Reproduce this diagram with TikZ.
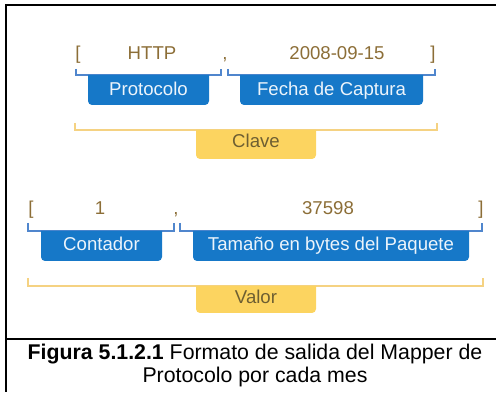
\documentclass[tikz,border=0pt]{standalone}
\usepackage{fontspec}
\setmainfont{Liberation Sans}
\usepackage{tikz}

\definecolor{tagblue}{RGB}{22,120,200}
\definecolor{lineblue}{RGB}{80,134,205}
\definecolor{tagyellow}{RGB}{252,212,96}
\definecolor{lineyellow}{RGB}{245,210,130}
\definecolor{fieldbrown}{RGB}{140,110,55}
\definecolor{keytext}{RGB}{110,95,50}

\tikzset{
    field/.style={anchor=base, text=fieldbrown, font=\fontsize{18.6}{21}\selectfont, inner sep=0pt},
    bluetag/.style={anchor=base, text=white!92!tagblue, font=\fontsize{18.6}{21}\selectfont, inner sep=0pt},
    yellowtag/.style={anchor=base, text=keytext, font=\fontsize{18.6}{21}\selectfont, inner sep=0pt},
    bluebrace/.style={draw=lineblue, line width=1.1pt},
    yellowbrace/.style={draw=lineyellow, line width=1.1pt},
}

\begin{document}
\begin{tikzpicture}[x=1pt, y=-1pt]
    \useasboundingbox (0,0) rectangle (496,395);

    % frame of the table
    \draw[line width=2pt] (6,5.5) -- (496,5.5);
    \draw[line width=2pt] (6,4.5) -- (6,392);
    \draw[line width=1.6pt] (6,339) -- (496,339);

    % key: [ HTTP , 2008-09-15 ]
    \node[field] (kopen) at (78,60) {[};
    \node[field] (proto) at (152,60) {HTTP};
    \node[field] (kcomma) at (225,60) {,};
    \node[field] (fecha) at (337,60) {2008-09-15};
    \node[field] (kclose) at (433,60) {]};

    \draw[bluebrace] (76,69) -- (76,75) -- (221,75) -- (221,69);
    \draw[bluebrace] (228,69) -- (228,75) -- (435,75) -- (435,69);
    \fill[tagblue, rounded corners=4pt] (88,75) -- (88,105) -- (209,105) -- (209,75);
    \fill[tagblue, rounded corners=4pt] (240,75) -- (240,105) -- (423,105) -- (423,75);
    \node[bluetag] (protolbl) at (148.5,96) {Protocolo};
    \node[bluetag] (fechalbl) at (331.5,96) {Fecha de Captura};

    \draw[yellowbrace] (75,123) -- (75,130) -- (437,130) -- (437,123);
    \fill[tagyellow, rounded corners=4pt] (196,130) -- (196,159) -- (316,159) -- (316,130);
    \node[yellowtag] (clave) at (256,148) {Clave};

    % value: [ 1 , 37598 ]
    \node[field] (vopen) at (31,215) {[};
    \node[field] (count) at (100,215) {1};
    \node[field] (vcomma) at (176,215) {,};
    \node[field] (size) at (328,215) {37598};
    \node[field] (vclose) at (481,215) {]};

    \draw[bluebrace] (28,223) -- (28,231) -- (174,231) -- (174,223);
    \draw[bluebrace] (180,223) -- (180,231) -- (482,231) -- (482,223);
    \fill[tagblue, rounded corners=4pt] (41,231) -- (41,261) -- (162,261) -- (162,231);
    \fill[tagblue, rounded corners=4pt] (193,231) -- (193,261) -- (469,261) -- (469,231);
    \node[bluetag] (countlbl) at (101.5,251) {Contador};
    \node[bluetag] (sizelbl) at (331,251) {Tamaño en bytes del Paquete};

    \draw[yellowbrace] (28,278) -- (28,286) -- (483,286) -- (483,278);
    \fill[tagyellow, rounded corners=4pt] (196,286) -- (196,313) -- (316,313) -- (316,286);
    \node[yellowtag] (valor) at (256,304) {Valor};

    % caption
    \node[anchor=base, inner sep=0pt, font=\fontsize{21.3}{24}\selectfont] (cap1) at (255,360)
        {\textbf{Figura 5.1.2.1} Formato de salida del Mapper de};
    \node[anchor=base, inner sep=0pt, font=\fontsize{21.3}{24}\selectfont] (cap2) at (255,383)
        {Protocolo por cada mes};
\end{tikzpicture}
\end{document}
